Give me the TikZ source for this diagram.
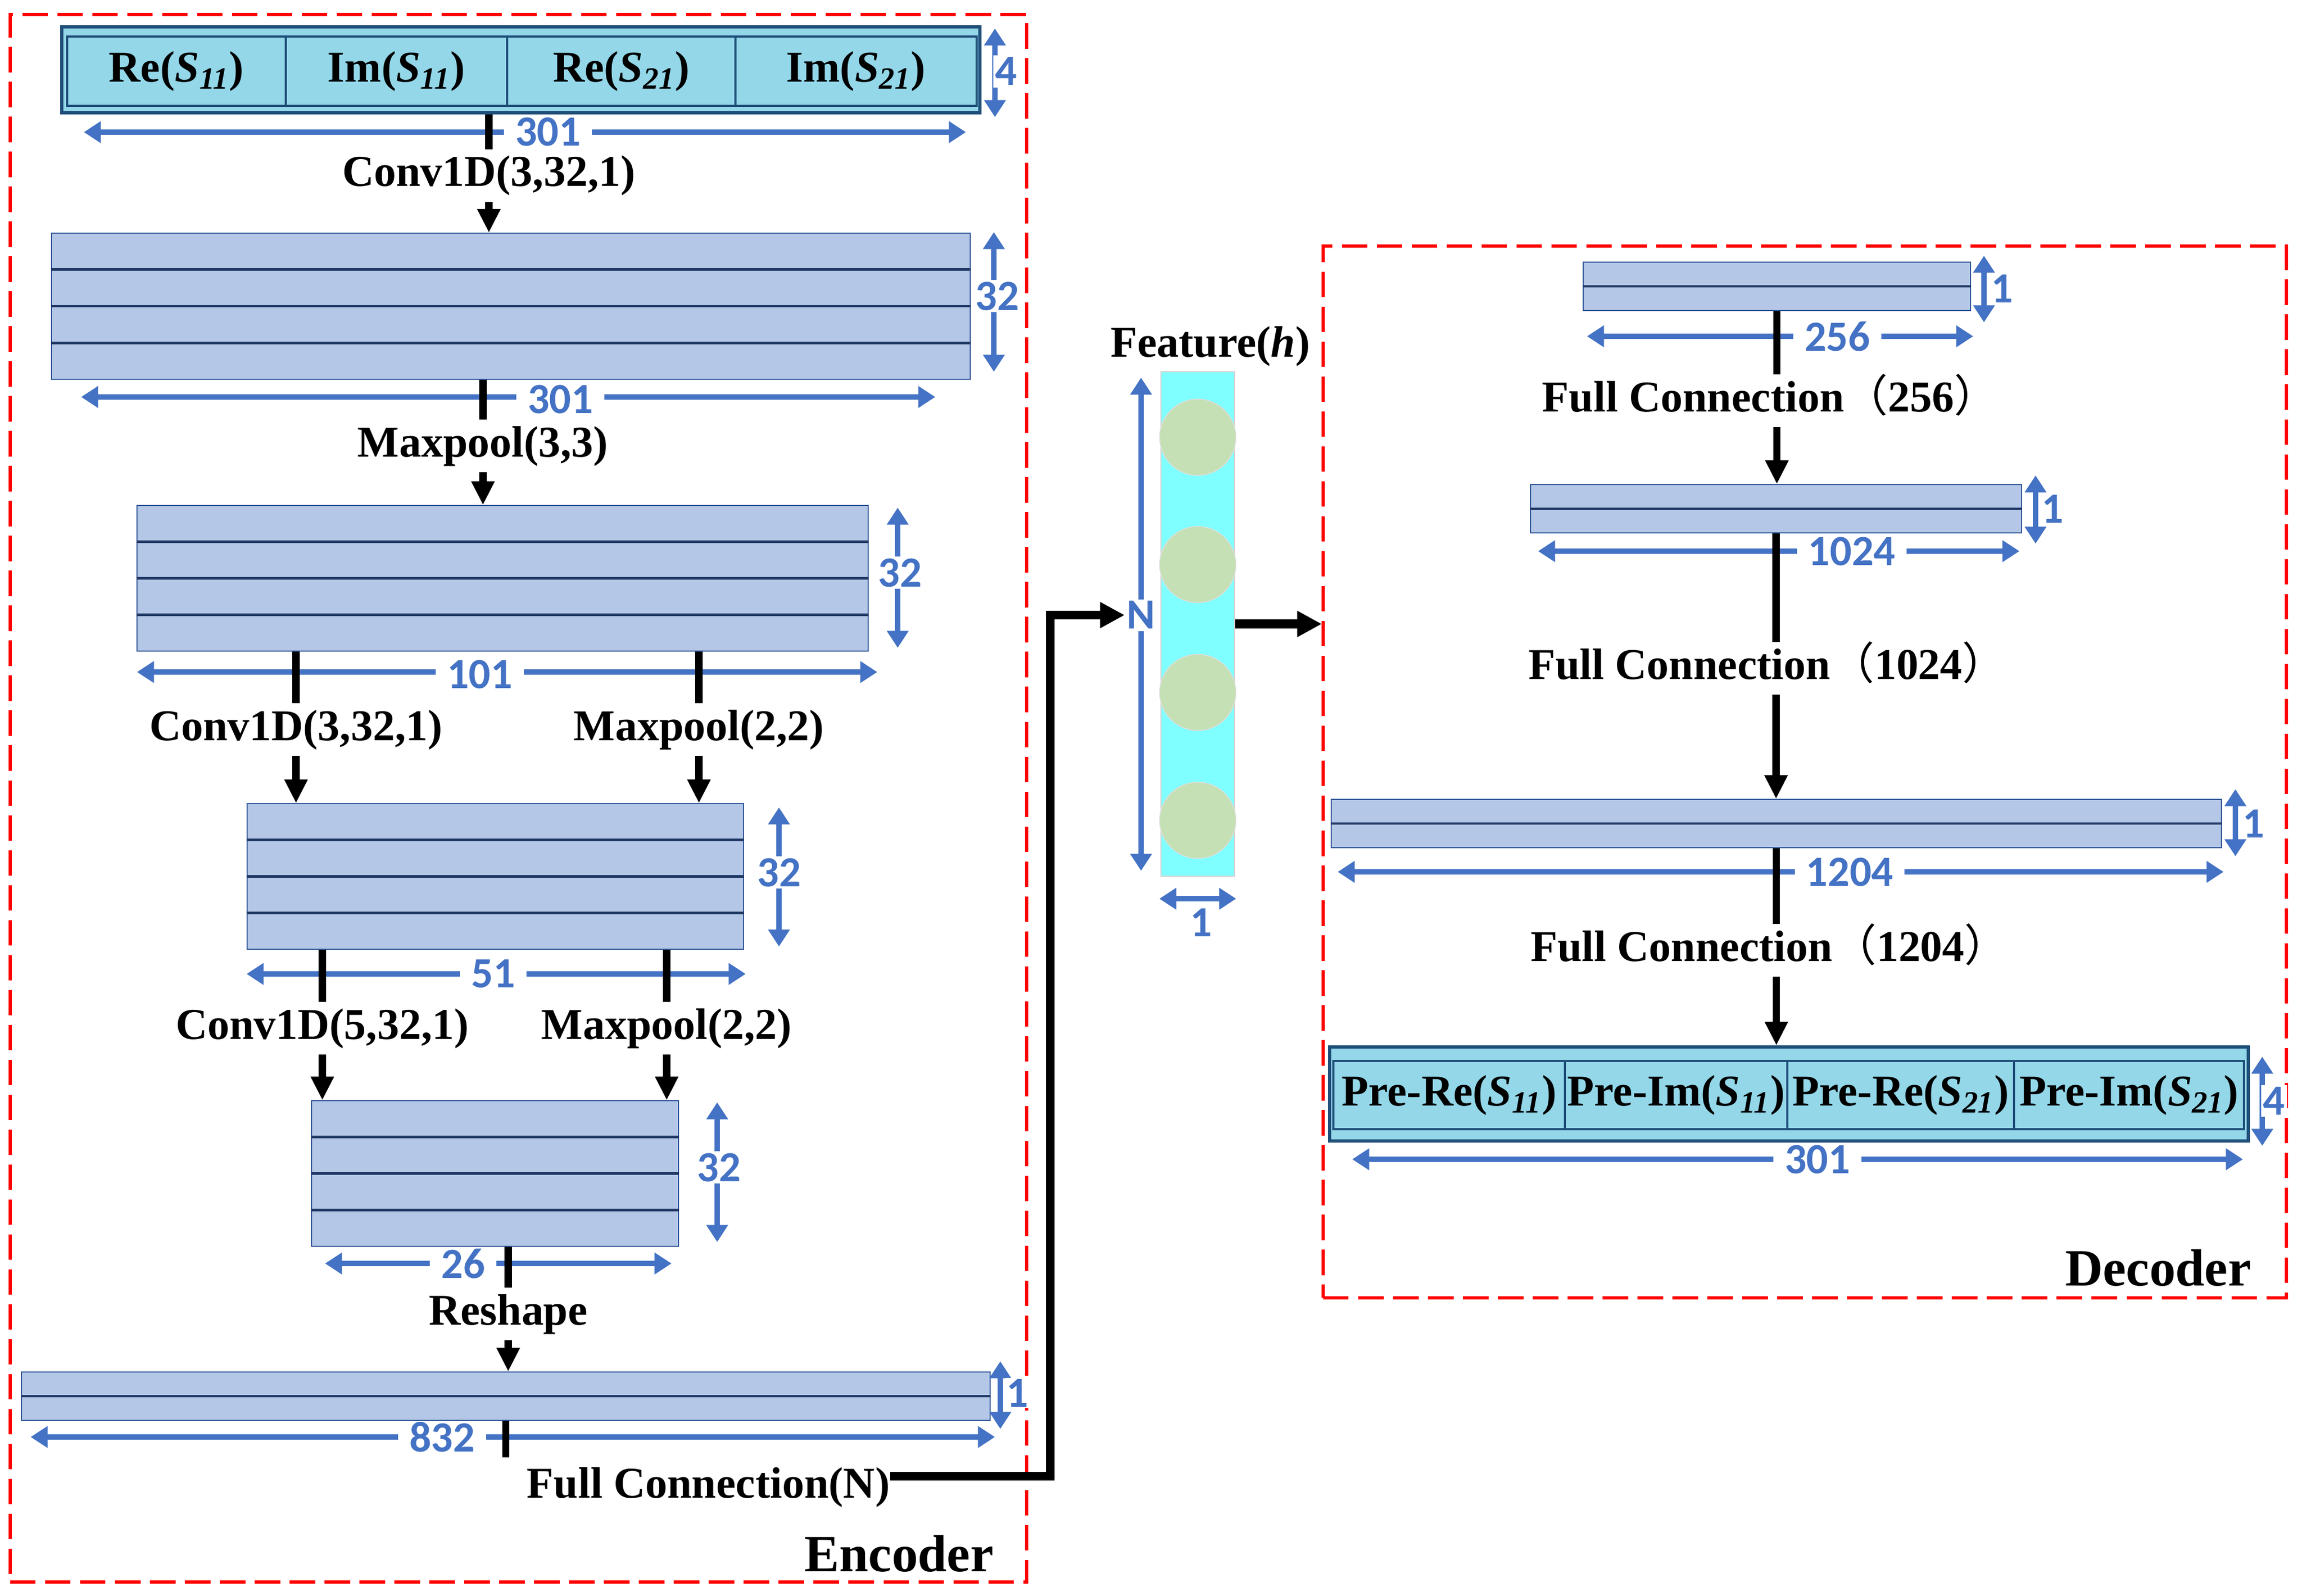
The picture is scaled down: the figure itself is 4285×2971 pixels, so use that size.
\documentclass[tikz,border=0pt]{standalone}
\usepackage{fontspec}
\setmainfont{Liberation Serif}
\newfontfamily\numfont{Carlito}
\newfontfamily\cjkfont{Noto Sans CJK SC}
\usetikzlibrary{arrows.meta,shapes.misc,shapes.geometric,calc}
\definecolor{blkfill}{HTML}{B4C7E7}
\definecolor{blkline}{HTML}{2F5597}
\definecolor{navy}{HTML}{203864}
\definecolor{dimblue}{HTML}{4472C4}
\definecolor{iofill}{HTML}{93D7E9}
\definecolor{ioline}{HTML}{1F4E79}
\definecolor{featcyan}{HTML}{7FFFFF}
\definecolor{featgreen}{HTML}{C5E0B4}
\newcommand\lblsize{\fontsize{23.3pt}{28pt}\selectfont}
\newcommand\numsize{\numfont\bfseries\fontsize{22.8pt}{26pt}\selectfont}
\newcommand\ttlsize{\fontsize{27.7pt}{32pt}\selectfont}
\newcommand\Ssub[1]{\textbf{\textit{S}}\textsubscript{\textit{#1}}}
\newcommand\fwl{{\cjkfont\mdseries （}}
\newcommand\fwr{{\cjkfont\mdseries ）}}
\newcommand\blklayers[2]{\foreach \f in {#2}{\draw[lay] ($(#1.north west)!\f!(#1.south west)$) -- ($(#1.north east)!\f!(#1.south east)$);}}
\begin{document}
\begin{tikzpicture}[x=0.1mm,y=-0.1mm,
  blk/.style={draw=blkline, line width=0.5pt, fill=blkfill, inner sep=0pt},
  lay/.style={draw=navy, line width=1.3pt},
  iobox/.style={draw=ioline, line width=1.7pt, fill=iofill, inner sep=0pt},
  iocell/.style={draw=ioline, line width=1.2pt, fill=iofill, inner sep=0pt, font=\lblsize\bfseries},
  lbl/.style={font=\lblsize\bfseries, inner xsep=0pt, inner ysep=3pt, text height=16.5pt, text depth=5pt, anchor=base},
  conn/.style={line width=3.9pt},
  arr/.style={line width=3.9pt, -{Triangle[length=12.5pt,width=11.5pt]}},
  bigarr/.style={line width=4.6pt, -{Triangle[length=13pt,width=13pt]}},
  dimln/.style={draw=dimblue, line width=2.7pt, {Triangle[length=9pt,width=11pt]}-{Triangle[length=9pt,width=11pt]}},
  hdl/.style={font=\numsize, text=dimblue, fill=white, inner xsep=6pt, inner ysep=0pt},
  vdl/.style={font=\numsize, text=dimblue, fill=white, inner sep=1pt},
  sdl/.style={font=\numsize, text=dimblue, fill=white, inner sep=0.5pt},
  frame/.style={draw=red, line width=1.5pt, dash pattern=on 13.5pt off 5pt, inner sep=0pt},
  ttl/.style={font=\ttlsize\bfseries, anchor=base east, inner sep=0pt}]
\useasboundingbox (0,0) rectangle (4285,2971);

% frames
\node[frame, minimum width=189.2mm, minimum height=291.8mm] (encbox) at (965,1486) {};
\node[frame, minimum width=179.3mm, minimum height=195.8mm] (decbox) at (3359.5,1437) {};

% ---------------- Encoder ----------------
\node[iobox, minimum width=170.9mm, minimum height=16mm] (inp) at (969.5,130) {};
\node[iocell, minimum width=40.7mm, minimum height=12.9mm] (c1) at (328.5,132.5) {Re(\Ssub{11})};
\node[iocell, minimum width=41.2mm, minimum height=12.9mm] (c2) at (738,132.5) {Im(\Ssub{11})};
\node[iocell, minimum width=42.5mm, minimum height=12.9mm] (c3) at (1156.5,132.5) {Re(\Ssub{21})};
\node[iocell, minimum width=44.9mm, minimum height=12.9mm] (c4) at (1593.5,132.5) {Im(\Ssub{21})};
\draw[dimln] (1852,53) -- (1852,218); \node[vdl] at (1873,133) {4};
\draw[dimln] (156,246) -- (1798,246); \node[hdl] at (1020,246) {301};

\node[blk, minimum width=171mm, minimum height=27.2mm] (B2) at (951,570) {};
\blklayers{B2}{0.25,0.5,0.75}
\draw[dimln] (1850,432) -- (1850,692); \node[vdl] at (1856,551) {32};
\draw[dimln] (151,739) -- (1741,739); \node[hdl] at (1043,743) {301};

\node[blk, minimum width=136.1mm, minimum height=27.1mm] (B3) at (935.5,1076.5) {};
\blklayers{B3}{0.25,0.5,0.75}
\draw[dimln] (1671,945) -- (1671,1206); \node[vdl] at (1675,1066) {32};
\draw[dimln] (255,1251) -- (1633,1251); \node[hdl] at (893,1255) {101};

\node[blk, minimum width=92.4mm, minimum height=27.1mm] (B4) at (922,1631.5) {};
\blklayers{B4}{0.25,0.5,0.75}
\draw[dimln] (1450,1503) -- (1450,1762); \node[vdl] at (1450,1624) {32};
\draw[dimln] (459,1813) -- (1388,1813); \node[hdl] at (918,1813) {51};

\node[blk, minimum width=68.3mm, minimum height=27.1mm] (B5) at (921.5,2184.5) {};
\blklayers{B5}{0.25,0.5,0.75}
\draw[dimln] (1335,2052) -- (1335,2312); \node[vdl] at (1338,2173) {32};
\draw[dimln] (605,2352) -- (1250,2352); \node[hdl] at (862,2352) {26};

\node[blk, minimum width=180.3mm, minimum height=9mm] (B6) at (941.5,2599) {};
\blklayers{B6}{0.5}
\draw[dimln] (1862,2534) -- (1862,2660); \node[sdl] at (1894,2593) {1};
\draw[dimln] (57,2675) -- (1852,2675); \node[hdl] at (823,2675) {832};

% labels
\node[lbl] (L1) at (910,347) {Conv1D(3,32,1)};
\node[lbl] (L2) at (899,850) {Maxpool(3,3)};
\node[lbl] (L3) at (551,1378) {Conv1D(3,32,1)};
\node[lbl] (L4) at (1301,1378) {Maxpool(2,2)};
\node[lbl] (L5) at (600,1934) {Conv1D(5,32,1)};
\node[lbl] (L6) at (1241,1934) {Maxpool(2,2)};
\node[lbl] (L7) at (946,2466) {Reshape};
\node[lbl, anchor=base west] (L8) at (980,2788) {Full Connection(N)};
\node[ttl] (enct) at (1850,2925) {Encoder};

% connectors
\draw[conn] (L1.north |- inp.south) -- (L1.north);
\draw[arr] (L1.south) -- (L1.south |- B2.north);
\draw[conn] (L2.north |- B2.south) -- (L2.north);
\draw[arr] (L2.south) -- (L2.south |- B3.north);
\draw[conn] (L3.north |- B3.south) -- (L3.north);
\draw[arr] (L3.south) -- (L3.south |- B4.north);
\draw[conn] (L4.north |- B3.south) -- (L4.north);
\draw[arr] (L4.south) -- (L4.south |- B4.north);
\draw[conn] (L5.north |- B4.south) -- (L5.north);
\draw[arr] (L5.south) -- (L5.south |- B5.north);
\draw[conn] (L6.north |- B4.south) -- (L6.north);
\draw[arr] (L6.south) -- (L6.south |- B5.north);
\draw[conn] (L7.north |- B5.south) -- (L7.north);
\draw[arr] (L7.south) -- (L7.south |- B6.north);
\coordinate (fcend) at (941.5,2713);
\draw[conn] (B6.south) -- (fcend);

% ---------------- Feature ----------------
\node[chamfered rectangle, chamfered rectangle xsep=3pt, fill=featcyan, draw=gray!35, line width=0.5pt, minimum width=13.7mm, minimum height=93.9mm, inner sep=0pt] (feat) at (2229.5,1161.5) {};
\foreach \yy/\nm in {814/e1,1051/e2,1289/e3,1527/e4}{
  \node[circle, fill=featgreen, draw=gray!25, line width=0.4pt, minimum size=14.2mm, inner sep=0pt] (\nm) at (2229.5,\yy) {};
}
\draw[dimln] (2124,703) -- (2124,1621); \node[vdl] (Nlbl) at (2124,1145) {N};
\draw[dimln] (2158,1673) -- (2301,1673); \node[sdl] at (2236,1717) {1};
\node[lbl] (ftl) at (2253,665) {Feature(\textit{h})};

\coordinate (bend) at (1955,1145);
\draw[bigarr] ([yshift=5.7pt]L8.east) -| (bend) |- (Nlbl.west);
\draw[bigarr] (feat.east) -- (feat.east -| decbox.west);

% ---------------- Decoder ----------------
\node[blk, minimum width=72.1mm, minimum height=9mm] (D1) at (3307.5,533) {};
\blklayers{D1}{0.5}
\draw[dimln] (3693,476) -- (3693,600); \node[sdl] at (3727,537) {1};
\draw[dimln] (2954,626) -- (3673,626); \node[hdl] at (3420,626) {256};

\node[blk, minimum width=91.4mm, minimum height=9mm] (D2) at (3306,947) {};
\blklayers{D2}{0.5}
\draw[dimln] (3789,885) -- (3789,1012); \node[sdl] at (3821,947) {1};
\draw[dimln] (2863,1026) -- (3759,1026); \node[hdl] at (3447,1026) {1024};

\node[blk, minimum width=165.7mm, minimum height=9mm] (D3) at (3306.5,1533) {};
\blklayers{D3}{0.5}
\draw[dimln] (4161,1469) -- (4161,1594); \node[sdl] at (4195,1533) {1};
\draw[dimln] (2490,1623) -- (4139,1623); \node[hdl] at (3443,1623) {1204};

\node[iobox, minimum width=171mm, minimum height=17.5mm] (outb) at (3330,2036.5) {};
\node[iocell, minimum width=43.1mm, minimum height=12.7mm] (o1) at (2697.5,2038.5) {Pre-Re(\Ssub{11})};
\node[iocell, minimum width=41.4mm, minimum height=12.7mm] (o2) at (3120,2038.5) {Pre-Im(\Ssub{11})};
\node[iocell, minimum width=42.2mm, minimum height=12.7mm] (o3) at (3538,2038.5) {Pre-Re(\Ssub{21})};
\node[iocell, minimum width=42.8mm, minimum height=12.7mm] (o4) at (3963,2038.5) {Pre-Im(\Ssub{21})};
\draw[dimln] (4211,1967) -- (4211,2133); \node[vdl] at (4233,2049) {4};
\draw[dimln] (2517,2158) -- (4175,2158); \node[hdl] at (3383,2158) {301};

\node[lbl] (LA) at (3295,766) {Full Connection\fwl 256\fwr};
\node[lbl] (LB) at (3290,1264) {Full Connection\fwl 1024\fwr};
\node[lbl] (LC) at (3294,1789) {Full Connection\fwl 1204\fwr};
\node[ttl] (dect) at (4191,2393) {Decoder};

\draw[conn] (D1.south) -- (D1.south |- LA.north);
\draw[arr] (D1.south |- LA.south) -- (D1.south |- D2.north);
\draw[conn] (D2.south) -- (D2.south |- LB.north);
\draw[arr] (D2.south |- LB.south) -- (D2.south |- D3.north);
\draw[conn] (D3.south) -- (D3.south |- LC.north);
\draw[arr] (D3.south |- LC.south) -- (D3.south |- outb.north);
\end{tikzpicture}
\end{document}
